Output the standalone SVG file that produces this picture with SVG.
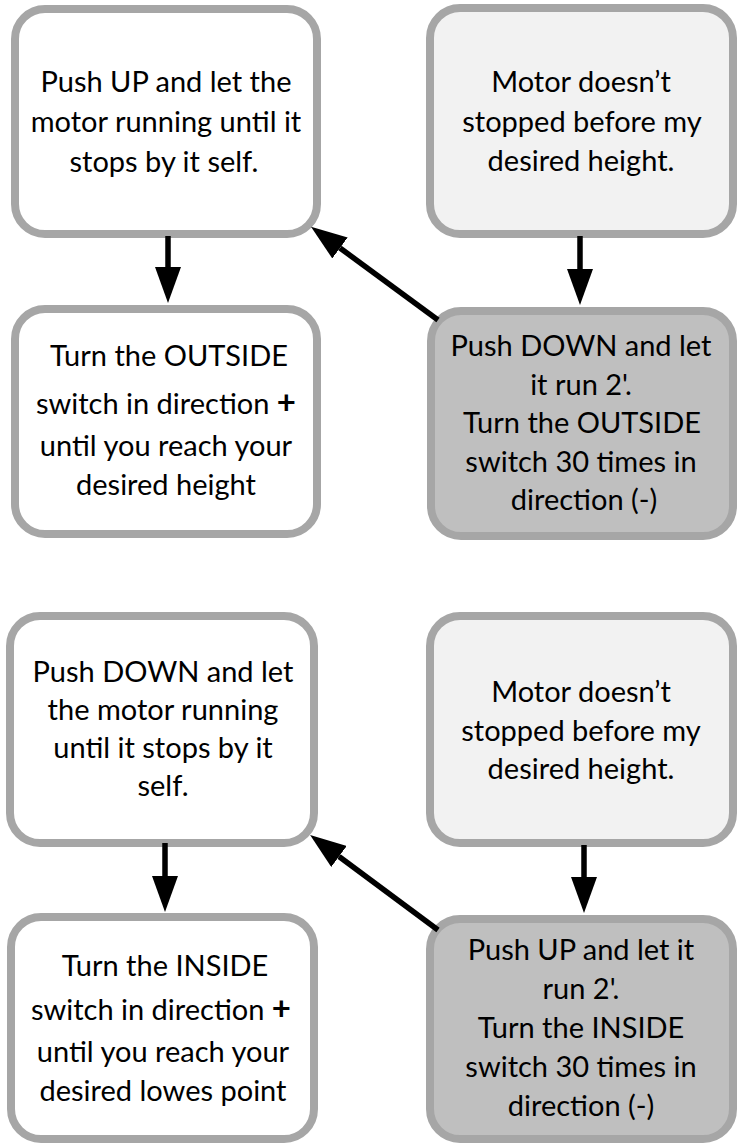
<svg xmlns="http://www.w3.org/2000/svg" width="743" height="1145" viewBox="0 0 743 1145">
<style>
.box{stroke:#a6a6a6;stroke-width:8}
.w{fill:#ffffff}.l{fill:#f2f2f2}.d{fill:#bfbfbf}
text{font-family:Lato,"Liberation Sans",sans-serif;font-size:29px;fill:#000;text-anchor:middle}
.plus{font-weight:bold;font-size:33px}
.conn line{stroke:#000;stroke-width:5.5}
</style>
<defs>
<marker id="ah" viewBox="0 0 36 26" refX="0" refY="13" markerWidth="36" markerHeight="26" markerUnits="userSpaceOnUse" orient="auto">
<path d="M0,0 L36,13 L0,26 Z" fill="#000"/>
</marker>
</defs>
<rect width="743" height="1145" fill="#fff"/>
<g id="n1"><rect class="box w" x="15" y="9" width="302" height="225" rx="30"/>
<text x="166" y="92">Push UP and let the</text><text x="166" y="132">motor running until it</text><text x="164" y="172">stops by it self.</text></g>
<g id="n2"><rect class="box l" x="430" y="8" width="303" height="226" rx="30"/>
<text x="581" y="92">Motor doesn’t</text><text x="582" y="132">stopped before my</text><text x="581" y="171">desired height.</text></g>
<g id="n3"><rect class="box w" x="15" y="309" width="302" height="225" rx="30"/>
<text x="169" y="366">Turn the OUTSIDE</text><text x="166" y="414">switch in direction <tspan class="plus">+</tspan></text><text x="166" y="456">until you reach your</text><text x="166" y="495">desired height</text></g>
<g id="n4"><rect class="box d" x="431" y="311" width="302" height="225" rx="30"/>
<text x="581" y="356">Push DOWN and let</text><text x="581" y="395">it run 2'.</text><text x="582" y="433">Turn the OUTSIDE</text><text x="581" y="472">switch 30 times in</text><text x="584" y="510">direction (-)</text></g>
<g id="n5"><rect class="box w" x="10" y="616" width="304" height="227" rx="30"/>
<text x="163" y="682">Push DOWN and let</text><text x="163" y="720">the motor running</text><text x="163" y="758">until it stops by it</text><text x="163" y="796">self.</text></g>
<g id="n6"><rect class="box l" x="430" y="616" width="303" height="227" rx="30"/>
<text x="581" y="702">Motor doesn’t</text><text x="581" y="741">stopped before my</text><text x="581" y="779">desired height.</text></g>
<g id="n7"><rect class="box w" x="11" y="917" width="303" height="222" rx="30"/>
<text x="165" y="976">Turn the INSIDE</text><text x="161" y="1020">switch in direction <tspan class="plus">+</tspan></text><text x="163" y="1062">until you reach your</text><text x="163" y="1101">desired lowes point</text></g>
<g id="n8"><rect class="box d" x="430" y="919" width="303" height="220" rx="30"/>
<text x="581" y="960">Push UP and let it</text><text x="581" y="999">run 2'.</text><text x="581" y="1038">Turn the INSIDE</text><text x="581" y="1077">switch 30 times in</text><text x="581" y="1116">direction (-)</text></g>
<g id="connectors" class="conn">
<line x1="168" y1="236" x2="168" y2="267" marker-end="url(#ah)"/>
<line x1="580" y1="236" x2="580" y2="269" marker-end="url(#ah)"/>
<line x1="438" y1="320" x2="340" y2="248" marker-end="url(#ah)"/>
<line x1="165" y1="843" x2="165" y2="876" marker-end="url(#ah)"/>
<line x1="584" y1="845" x2="584" y2="877" marker-end="url(#ah)"/>
<line x1="438" y1="930" x2="339" y2="856.5" marker-end="url(#ah)"/>
</g>
</svg>
